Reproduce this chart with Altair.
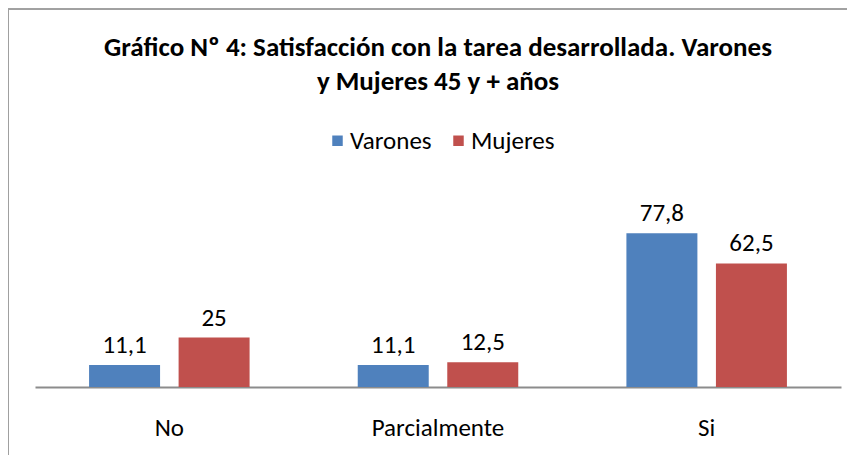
import altair as alt
import pandas as pd

categories = ["No", "Parcialmente", "Si"]
series = ["Varones", "Mujeres"]
varones = [11.1, 11.1, 77.8]
mujeres = [25, 12.5, 62.5]
colors = ["#4F81BD", "#C0504D"]
title_lines = ["Gráfico Nº 4: Satisfacción con la tarea desarrollada. Varones",
               "y Mujeres 45 y + años"]

FONT = "Carlito, Lato, sans-serif"


def fmt(v):
    return (f"{v:g}").replace(".", ",")


rows = []
for i, c in enumerate(categories):
    rows.append({"cat": c, "serie": "Varones", "value": varones[i], "label": fmt(varones[i])})
    rows.append({"cat": c, "serie": "Mujeres", "value": mujeres[i], "label": fmt(mujeres[i])})
df = pd.DataFrame(rows)

x_enc = alt.X("cat:N", sort=categories,
              scale=alt.Scale(paddingInner=0, paddingOuter=0),
              axis=alt.Axis(title=None, labelAngle=0, ticks=False, tickSize=0,
                            domainColor="#8c8c8c", domainWidth=2, grid=False,
                            labelFontSize=25, labelFont=FONT, labelColor="black",
                            labelBaseline="alphabetic", labelPadding=48))
xo_enc = alt.XOffset("serie:N", sort=series,
                     scale=alt.Scale(paddingInner=0.207, paddingOuter=0.604))
y_enc = alt.Y("value:Q", scale=alt.Scale(domain=[0, 90]), axis=None)

base = alt.Chart(df).encode(x=x_enc, xOffset=xo_enc, y=y_enc)

bars = base.mark_bar().encode(
    color=alt.Color("serie:N", sort=series,
                    scale=alt.Scale(domain=series, range=colors),
                    legend=alt.Legend(orient="none", legendX=286, legendY=-81,
                                      direction="horizontal", title=None,
                                      symbolType="square", symbolSize=110,
                                      symbolStrokeWidth=0, symbolOffset=4,
                                      labelFontSize=25,
                                      labelFont=FONT, labelColor="black",
                                      labelOffset=0, columnPadding=10))
)

labels = base.mark_text(dy=-12, baseline="alphabetic", fontSize=25,
                        font=FONT, color="black").encode(text="label:N")

border_top = alt.Chart(df).mark_rule(color="#a0a0a0", strokeWidth=1).encode(
    x=alt.value(-27), x2=alt.value(812), y=alt.value(-200))
border_left = alt.Chart(df).mark_rule(color="#a0a0a0", strokeWidth=1).encode(
    x=alt.value(-26.5), y=alt.value(-200), y2=alt.value(246))

chart = alt.layer(border_top, border_left, bars, labels).properties(
    width=806, height=178,
    background="white",
    autosize=alt.AutoSizeParams(type="none"),
    padding={"left": 27, "top": 201, "right": 6, "bottom": 68},
    title=alt.TitleParams(text=title_lines, fontSize=27, font=FONT,
                          fontWeight="bold", anchor="middle", color="black",
                          baseline="alphabetic", lineHeight=34, offset=-108.5),
).configure_view(stroke=None)

chart.save("out.html", embed_options={"renderer": "svg", "actions": False})
